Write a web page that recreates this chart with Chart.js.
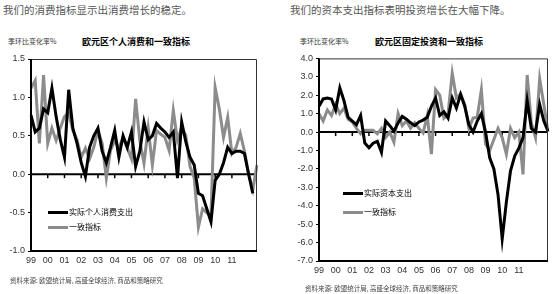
<!DOCTYPE html>
<html>
<head>
<meta charset="utf-8">
<script src="https://cdn.jsdelivr.net/npm/chart.js@4.4.0/dist/chart.umd.min.js"></script>
<style>
body { margin: 0; width: 554px; height: 294px; background: #fff; position: relative; overflow: hidden; font-family: "Noto Sans CJK SC", sans-serif; }
.t { position: absolute; white-space: nowrap; line-height: 1; }
.hd { font-size: 10.5px; color: #555; top: 5px; }
.unit { font-size: 7px; color: #333; top: 38px; }
.ttl { font-size: 9px; font-weight: bold; color: #000; top: 37px; }
.src { font-size: 6.5px; color: #444; }
.lg { font-size: 8px; color: #000; }
.sw { position: absolute; height: 3px; }
canvas { position: absolute; }
</style>
</head>
<body>
<div class="t hd" style="left:3px">我们的消费指标显示出消费增长的稳定。</div>
<div class="t hd" style="left:290px">我们的资本支出指标表明投资增长在大幅下降。</div>

<div class="t unit" style="left:8px">季环比变化率%</div>
<div class="t ttl" style="left:82px">欧元区个人消费和一致指标</div>
<div class="t unit" style="left:300px">季环比变化率%</div>
<div class="t ttl" style="left:375px">欧元区固定投资和一致指标</div>

<canvas id="consChart" style="left:0;top:50px;width:270px;height:240px" width="270" height="240"></canvas>
<canvas id="invChart" style="left:277px;top:50px;width:277px;height:244px" width="277" height="244"></canvas>

<div class="sw" style="left:48px;top:211px;width:20px;background:#000"></div>
<div class="t lg" style="left:69px;top:208px">实际个人消费支出</div>
<div class="sw" style="left:48px;top:226px;width:20px;background:#8c8c8c"></div>
<div class="t lg" style="left:69px;top:223px">一致指标</div>

<div class="sw" style="left:343px;top:192px;width:20px;background:#000"></div>
<div class="t lg" style="left:364px;top:189px">实际资本支出</div>
<div class="sw" style="left:343px;top:211px;width:20px;background:#8c8c8c"></div>
<div class="t lg" style="left:364px;top:208px">一致指标</div>

<div class="t src" style="left:10px;top:277px">资料来源: 欧盟统计局, 高盛全球经济, 商品和策略研究</div>
<div class="t src" style="left:305px;top:285px">资料来源: 欧盟统计局, 高盛全球经济, 商品和策略研究</div>

<script>
// year tick labels, quarterly data from 1999Q1 (the last year gets no label)
const years = ['99', '00', '01', '02', '03', '04', '05', '06', '07', '08', '09', '10', '11', '12'];
const lastLabelled = '11';

// left: private consumption vs coincident indicator (qoq %)
const consActual = [0.77, 0.55, 0.6, 0.85, 0.8, 1.12, 0.75, 0.45, 0.22, 1.1, 0.6, 0.4, 0.15, -0.03, 0.35, 0.5, 0.6, 0.3, 0.15, 0.35,
    0.57, 0.22, 0.5, 0.35, 0.55, 0.1, 0.3, 0.68, 0.45, 0.5, 0.66, 0.6, 0.55, 0.48, 0.55, -0.05, 0.68, 0.42, 0.22, 0.12,
    -0.25, -0.28, -0.45, -0.62, -0.08, 0.0, 0.15, 0.35, 0.27, 0.3, 0.3, 0.27, 0.0, -0.25, null];
const consIndicator = [1.12, 1.22, 0.4, 1.29, 0.4, 0.6, 0.44, 0.6, 0.75, 0.8, 0.57, 0.45, 0.22, 0.34, 0.2, 0.35, 0.57, 0.4, -0.05, 0.31,
    0.44, 0.34, 0.48, 0.34, 0.2, 0.98, 0.44, 0.14, 0.6, 0.12, 0.57, 0.52, 0.48, 0.31, 0.83, 0.44, 0.61, 0.5, 0.1, -0.05,
    -0.69, -0.45, -0.5, -0.55, 1.13, 0.85, 0.48, 0.74, 0.27, 0.35, 0.53, 0.3, 0.0, -0.2, 0.12];

// right: fixed investment vs coincident indicator (qoq %)
const invActual = [1.4, 1.8, 1.85, 1.8, 1.2, 2.4, 1.7, 0.8, 0.6, 0.4, 0.9, -0.6, -0.85, -0.6, -0.5, -1.1, 0.6, 0.35, 0.05, 0.5,
    0.85, 0.7, 0.5, 0.35, 0.55, 0.65, 0.8, 1.4, 1.85, 0.9, 1.1, 0.76, 1.85, 1.3, 2.05, 1.4, 0.4, 0.0, 0.6, 1.0,
    0.0, -1.4, -2.0, -3.4, -5.8, -3.8, -2.1, -1.3, -0.87, -0.3, 1.7, 0.2, 0.0, 1.5, 0.6, 0.05];
const invIndicator = [1.0, 0.6, 1.2, 0.9, 1.5, 1.0, 1.3, 0.7, 0.55, 0.2, -0.1, 0.1, 0.1, 0.1, -0.1, 0.2, -0.3, 0.0, -0.55, 1.0,
    0.35, 0.6, 0.2, 0.5, 0.2, -0.05, 0.9, -1.2, 2.3, 2.0, 0.76, 1.0, 3.2, 1.85, 2.07, 1.5, 0.2, 0.76, 0.8, 2.3,
    -0.65, -1.0, -0.4, 0.2, -0.3, -1.2, 0.2, -0.3, 0.0, -2.3, 3.1, 0.5, -0.3, 2.9, 1.5, 0.0];

function quarterLabels(n) {
    const out = [];
    for (let i = 0; i < n; i++) out.push(years[Math.floor(i / 4)] + 'Q' + (i % 4 + 1));
    return out;
}

// a year gets a label and a tick only if it is Q1 and not past the last labelled year
function isYearStart(lab) {
    return lab.endsWith('Q1') && lab.slice(0, 2) <= lastLabelled || lab.endsWith('Q1') && lab.startsWith('99');
}

const framePlugin = {
    id: 'frame',
    beforeDatasetsDraw(chart) {
        const { ctx, chartArea: a, scales: { x, y } } = chart;
        const y0 = y.getPixelForValue(0);
        ctx.save();
        ctx.strokeStyle = '#000';
        ctx.lineWidth = 2;
        ctx.beginPath(); ctx.moveTo(a.left, y0); ctx.lineTo(a.right, y0); ctx.stroke();
        ctx.lineWidth = 1.5;
        chart.data.labels.forEach((lab, i) => {
            if (i > 0 && isYearStart(lab)) {
                const px = x.getPixelForValue(i);
                ctx.beginPath(); ctx.moveTo(px, y0); ctx.lineTo(px, y0 + 4); ctx.stroke();
            }
        });
        ctx.restore();
    },
    afterDraw(chart) {
        const { ctx, chartArea: a } = chart;
        ctx.save();
        ctx.strokeStyle = '#333';
        ctx.lineWidth = 1;
        ctx.beginPath(); ctx.moveTo(a.left, a.top + 0.5); ctx.lineTo(a.right - 0.5, a.top + 0.5); ctx.lineTo(a.right - 0.5, a.bottom); ctx.stroke();
        ctx.strokeStyle = '#000';
        ctx.lineWidth = 2;
        ctx.beginPath(); ctx.moveTo(a.left, a.top); ctx.lineTo(a.left, a.bottom); ctx.lineTo(a.right, a.bottom); ctx.stroke();
        ctx.restore();
    }
};

function makeChart(id, actual, indicator, yMin, yMax, step, axisW, axisH, pad) {
    const labels = quarterLabels(indicator.length);
    return new Chart(document.getElementById(id), {
        type: 'line',
        data: {
            labels: labels,
            datasets: [
                { data: actual, borderColor: '#000', borderWidth: 3, pointRadius: 0, tension: 0 },
                { data: indicator, borderColor: '#8c8c8c', borderWidth: 3, pointRadius: 0, tension: 0 }
            ]
        },
        options: {
            responsive: false,
            animation: false,
            layout: { padding: pad },
            plugins: { legend: { display: false }, tooltip: { enabled: false } },
            scales: {
                x: {
                    offset: false,
                    grid: { display: false, drawTicks: false },
                    border: { display: false },
                    afterFit: s => { s.height = axisH; },
                    ticks: {
                        autoSkip: false, maxRotation: 0, padding: 4,
                        color: '#333', font: { family: 'Liberation Sans', size: 9 },
                        callback: function (v) {
                            const l = this.getLabelForValue(v);
                            return isYearStart(l) ? l.slice(0, 2) : '';
                        }
                    }
                },
                y: {
                    min: yMin, max: yMax,
                    grid: { drawOnChartArea: false, color: '#000', tickLength: 3 },
                    border: { display: false },
                    afterFit: s => { s.width = axisW; },
                    ticks: {
                        stepSize: step, padding: 3,
                        color: '#333', font: { family: 'Liberation Sans', size: 9 },
                        callback: v => v.toFixed(1)
                    }
                }
            }
        },
        plugins: [framePlugin]
    });
}

makeChart('consChart', consActual, consIndicator, -1.0, 1.5, 0.5, 31, 39, { top: 9, right: 13, left: 0, bottom: 0 });
makeChart('invChart', invActual, invIndicator, -7.0, 4.0, 1.0, 42, 33, { top: 8, right: 6, left: 0, bottom: 0 });
</script>
</body>
</html>
